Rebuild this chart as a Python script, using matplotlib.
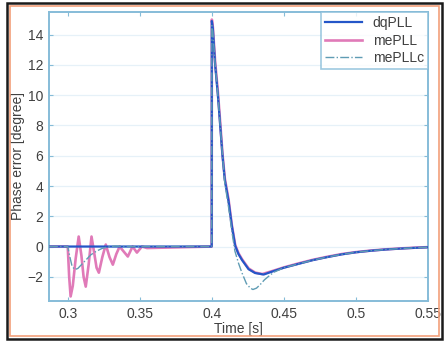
import matplotlib.pyplot as plt
from matplotlib.patches import Rectangle

# dqPLL
t_dq = [0.287, 0.3999, 0.4, 0.4007, 0.4023, 0.4042, 0.4058, 0.4074, 0.409, 0.4116,
        0.4139, 0.4162, 0.4185, 0.421, 0.4255, 0.43, 0.436, 0.442, 0.45, 0.46,
        0.47, 0.48, 0.49, 0.5, 0.51, 0.52, 0.53, 0.54, 0.55]
y_dq = [0, 0, 14.9, 14.4, 12.0, 10.0, 8.0, 6.0, 4.4, 3.0,
        1.35, 0.05, -0.5, -0.9, -1.5, -1.75, -1.85, -1.65, -1.4, -1.15,
        -0.9, -0.7, -0.52, -0.38, -0.28, -0.2, -0.14, -0.09, -0.05]

# mePLL
t_me = [0.287, 0.3, 0.301, 0.302, 0.3035, 0.3055, 0.3076, 0.3095, 0.311, 0.3125,
        0.3145, 0.3165, 0.3185, 0.32, 0.3216, 0.324, 0.3264, 0.329, 0.3313, 0.3337,
        0.336, 0.339, 0.3417, 0.345, 0.348, 0.3515, 0.355, 0.3999,
        0.4, 0.4007, 0.4023, 0.4042, 0.4058, 0.4074, 0.409, 0.4116, 0.4139, 0.4162,
        0.4185, 0.421, 0.4255, 0.43, 0.435, 0.442, 0.45, 0.46, 0.47, 0.48, 0.49,
        0.5, 0.51, 0.52, 0.53, 0.54, 0.55]
y_me = [0, 0, -2.0, -3.3, -2.6, -0.8, 0.66, -0.6, -2.0, -2.65,
        -1.2, 0.66, -0.5, -1.4, -1.73, -0.7, 0.13, -0.7, -1.2, -0.5,
        0.0, -0.35, -0.66, 0.0, -0.4, 0.0, -0.1, 0.0,
        15.0, 14.5, 12.2, 10.2, 8.2, 6.1, 4.5, 3.1, 1.4, 0.1,
        -0.45, -0.85, -1.45, -1.72, -1.82, -1.62, -1.38, -1.12, -0.88, -0.68, -0.5,
        -0.37, -0.27, -0.19, -0.13, -0.08, -0.04]

# mePLLc
t_mc = [0.287, 0.3, 0.3015, 0.303, 0.3049, 0.307, 0.31, 0.313, 0.316, 0.32,
        0.324, 0.328, 0.333, 0.34, 0.3999,
        0.4, 0.4007, 0.4023, 0.4042, 0.4058, 0.4074, 0.409, 0.4116, 0.4139, 0.416,
        0.4185, 0.4209, 0.424, 0.4267, 0.4285, 0.431, 0.4336, 0.4365, 0.4395, 0.443,
        0.45, 0.46, 0.47, 0.48, 0.49, 0.5, 0.51, 0.52, 0.53, 0.54, 0.55]
y_mc = [0, 0, -0.7, -1.3, -1.52, -1.45, -1.15, -0.85, -0.55, -0.3,
        -0.12, -0.02, 0.03, 0, 0,
        14.6, 14.2, 12.0, 10.0, 8.0, 6.0, 4.2, 2.6, 1.0, -0.3,
        -1.1, -1.74, -2.45, -2.75, -2.84, -2.75, -2.51, -2.2, -1.96, -1.7,
        -1.4, -1.15, -0.9, -0.7, -0.52, -0.38, -0.28, -0.2, -0.14, -0.09, -0.05]

x_ticks = [0.3, 0.35, 0.4, 0.45, 0.5, 0.55]
x_labels = ["0.3", "0.35", "0.4", "0.45", "0.5", "0.55"]
y_ticks = [-2, 0, 2, 4, 6, 8, 10, 12, 14]

plt.rcParams['font.family'] = ['Liberation Sans', 'DejaVu Sans']

fig = plt.figure(figsize=(4.44, 3.42), dpi=100)
ax = fig.add_axes([49 / 444, 1 - 301 / 342, (428 - 49) / 444, (301 - 12) / 342])

ax.plot(t_me, y_me, color='#e07ab8', lw=1.9, label='mePLL', zorder=3)
ax.plot(t_dq, y_dq, color='#2456c8', lw=1.6, label='dqPLL', zorder=4)
ax.plot(t_mc, y_mc, color='#5f9cb4', lw=1.0, ls='-.', label='mePLLc', zorder=5)

ax.set_xlim(0.287, 0.55)
ax.set_ylim(-3.6, 15.5)
ax.set_xticks(x_ticks)
ax.set_xticklabels(x_labels)
ax.set_yticks(y_ticks)

spine_col = '#86bcd8'
for s in ax.spines.values():
    s.set_color(spine_col)
    s.set_linewidth(1.4)
ax.tick_params(direction='in', length=3, color=spine_col, labelsize=10,
               labelcolor='#404040', top=True, right=True, pad=4)
ax.yaxis.grid(True, color='#e6f1f8', lw=0.9)
ax.set_axisbelow(True)

ax.set_xlabel('Time [s]', fontsize=10, color='#404040', labelpad=1)
ax.set_ylabel('Phase error [degree]', fontsize=10, color='#404040', labelpad=2)

h, l = ax.get_legend_handles_labels()
order = [1, 0, 2]
leg = ax.legend([h[i] for i in order], [l[i] for i in order],
                loc='upper right', fontsize=10, frameon=True, fancybox=False,
                borderpad=0.3, handlelength=2.6, labelspacing=0.25,
                borderaxespad=0.0)
leg.get_frame().set_edgecolor(spine_col)
leg.get_frame().set_linewidth(1.2)
for txt in leg.get_texts():
    txt.set_color('#404040')

# scanned frame around the figure
fig.patches.append(Rectangle((7 / 444, 3 / 342), 435 / 444, 336 / 342,
                             transform=fig.transFigure, fill=False,
                             edgecolor='#1a1a1a', lw=1.8))
fig.patches.append(Rectangle((10 / 444, 6 / 342), 429 / 444, 330 / 342,
                             transform=fig.transFigure, fill=False,
                             edgecolor='#f2a07a', lw=1.2))

plt.savefig('out.png', dpi=100)
plt.close()
